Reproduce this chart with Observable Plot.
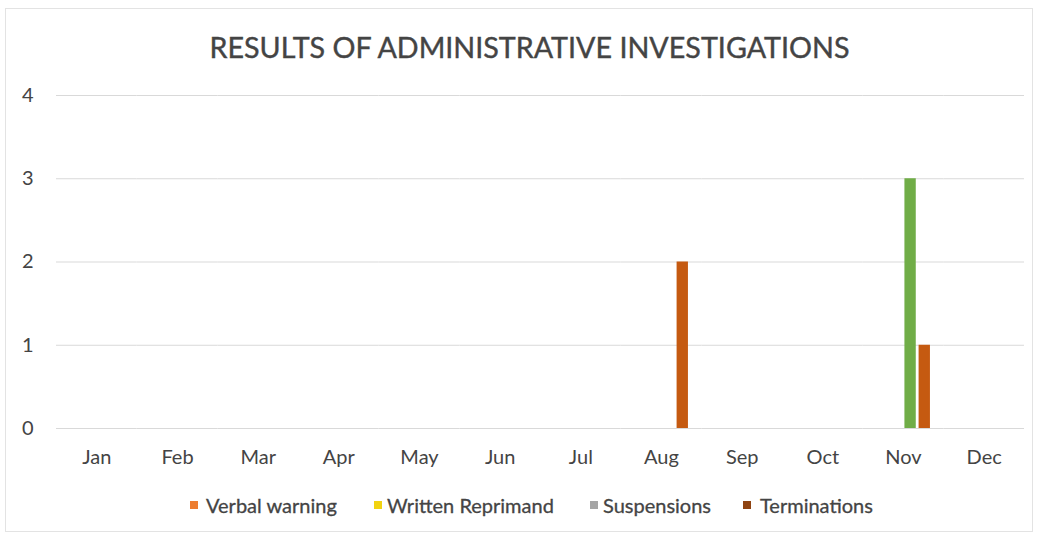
<!DOCTYPE html>
<html><head><meta charset="utf-8">
<script src="https://cdn.jsdelivr.net/npm/d3@7"></script>
<script src="https://cdn.jsdelivr.net/npm/@observablehq/plot@0.6"></script>
<style>
body{margin:0;background:#fff;font-family:Lato,"Open Sans",sans-serif;}
#frame{position:absolute;left:5px;top:8px;width:1028px;height:524px;border:1px solid #e3e3e3;box-sizing:border-box;}
#title{position:absolute;left:11px;top:29px;width:1037px;text-align:center;font-size:28.7px;font-weight:400;color:#444;line-height:36px;-webkit-text-stroke:0.4px #444;}
#chart{position:absolute;left:0;top:80px;}
#legend{position:absolute;left:0;top:493px;width:1037px;font-size:20px;font-weight:400;color:#444;line-height:24px;-webkit-text-stroke:0.3px #444;}
.item{position:absolute;white-space:nowrap;}
.sw{position:absolute;top:8px;width:8px;height:8px;}
svg text{-webkit-text-stroke:0.3px #444;}
</style></head>
<body>
<div id="frame"></div>
<div id="title">RESULTS OF ADMINISTRATIVE INVESTIGATIONS</div>
<div id="chart"></div>
<div id="legend"></div>
<script>
const months = ["Jan","Feb","Mar","Apr","May","Jun","Jul","Aug","Sep","Oct","Nov","Dec"];
const seriesNames = ["Verbal warning","Written Reprimand","Suspensions","Terminations"];
const verbalWarning    = [0,0,0,0,0,0,0,0,0,0,0,0];
const writtenReprimand = [0,0,0,0,0,0,0,0,0,0,0,0];
const suspensions      = [0,0,0,0,0,0,0,0,0,0,3,0];
const terminations     = [0,0,0,0,0,0,0,2,0,0,1,0];
const yTicks = [0,1,2,3,4];
const barColors = ["#ED7D31","#FFC000","#70AD47","#C55A11"];
const legendColors = ["#ED7D31","#F2D311","#A5A5A5","#8F4412"];
const legendSwatchX = [190,374,590,743];
const legendTextX = [206,387,603,760];

const seriesValues = [verbalWarning, writtenReprimand, suspensions, terminations];
const data = [];
months.forEach((m,i)=>seriesNames.forEach((s,j)=>data.push({month:m, series:s, value:seriesValues[j][i]})));

const chart = Plot.plot({
  width: 1037,
  height: 400,
  marginLeft: 56,
  marginRight: 13,
  marginTop: 15,
  marginBottom: 52,
  style: {fontFamily: "Lato, 'Open Sans', sans-serif", fontSize: "20px", fontWeight: "400", color: "#444", background: "transparent"},
  fx: {domain: months, padding: 0, round: false, label: null, axis: "bottom", tickSize: 0, tickPadding: 21},
  x: {domain: seriesNames, paddingInner: 0.2, paddingOuter: 0.945, round: false, axis: null},
  y: {domain: [0,4], ticks: yTicks, label: null, tickSize: 0, tickPadding: 23, tickFormat: d3.format("d")},
  color: {domain: seriesNames, range: barColors},
  marks: [
    Plot.ruleY(yTicks, {stroke: "#d9d9d9", strokeWidth: 1}),
    Plot.barY(data, {fx: "month", x: "series", y: "value", fill: "series"})
  ]
});
document.getElementById("chart").appendChild(chart);

const lg = document.getElementById("legend");
seriesNames.forEach((s,i)=>{
  const sw = document.createElement("span");
  sw.className = "sw";
  sw.style.left = legendSwatchX[i] + "px";
  sw.style.background = legendColors[i];
  lg.appendChild(sw);
  const d = document.createElement("div");
  d.className = "item";
  d.style.left = legendTextX[i] + "px";
  d.textContent = s;
  lg.appendChild(d);
});
</script>
</body></html>
